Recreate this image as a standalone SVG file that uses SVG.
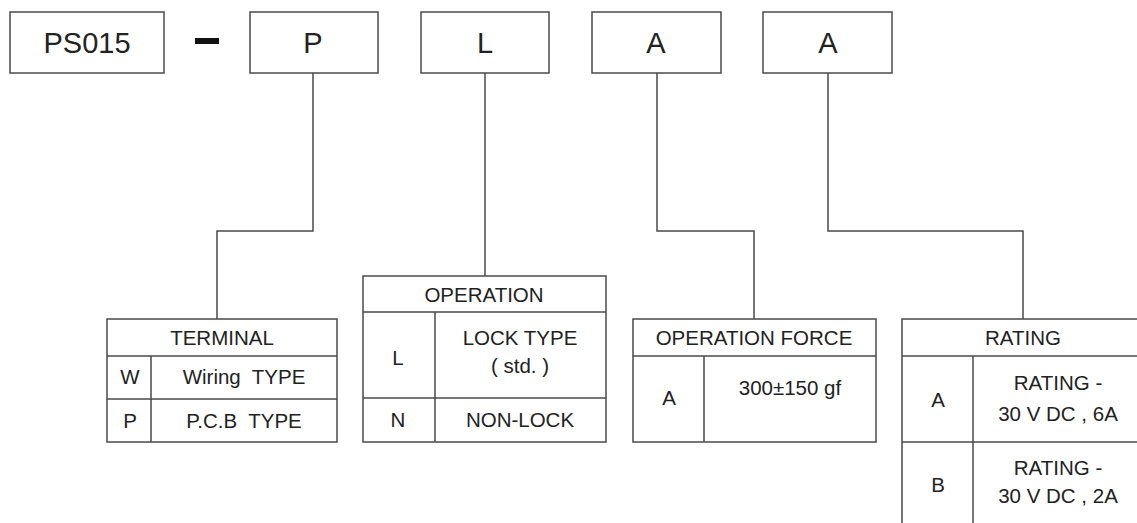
<svg xmlns="http://www.w3.org/2000/svg" width="1137" height="523" viewBox="0 0 1137 523">
<style>
.b{fill:none;stroke:#4a4a4a;stroke-width:1.5}
.c{fill:none;stroke:#4a4a4a;stroke-width:1.5}
text{font-family:"Liberation Sans",Arial,sans-serif;fill:#222;text-anchor:middle}
.t{font-size:29px}
.s{font-size:20.5px}
</style>
<rect width="1137" height="523" fill="#fff"/>
<g id="code-ps015"><rect class="b" x="10" y="12" width="154" height="61"/><text class="t" x="87" y="53">PS015</text></g>
<g id="dash"><rect x="195" y="38" width="24" height="6" fill="#111"/></g>
<g id="code-p"><rect class="b" x="250" y="12" width="128" height="61"/><text class="t" x="313" y="53">P</text></g>
<g id="code-l"><rect class="b" x="421" y="12" width="128" height="61"/><text class="t" x="485" y="53">L</text></g>
<g id="code-a1"><rect class="b" x="592" y="12" width="129" height="61"/><text class="t" x="656" y="53">A</text></g>
<g id="code-a2"><rect class="b" x="763" y="12" width="129" height="61"/><text class="t" x="828" y="53">A</text></g>
<g id="connectors">
<polyline class="c" points="313,73 313,231 217,231 217,319"/>
<polyline class="c" points="485,73 485,276"/>
<polyline class="c" points="657,73 657,231 754,231 754,319"/>
<polyline class="c" points="828,73 828,231 1023,231 1023,319"/>
</g>
<g id="terminal">
<rect class="b" x="107" y="319" width="230" height="123"/>
<path class="b" d="M107,356H337M107,399H337M151,356V442"/>
<text class="s" x="222" y="345">TERMINAL</text>
<text class="s" x="130" y="384">W</text>
<text class="s" x="244" y="384" xml:space="preserve">Wiring  TYPE</text>
<text class="s" x="130" y="428">P</text>
<text class="s" x="244" y="428" xml:space="preserve">P.C.B  TYPE</text>
</g>
<g id="operation">
<rect class="b" x="363" y="276" width="243" height="166"/>
<path class="b" d="M363,312H606M363,398H606M435,312V442"/>
<text class="s" x="484" y="302">OPERATION</text>
<text class="s" x="398" y="365">L</text>
<text class="s" x="520" y="345">LOCK TYPE</text>
<text class="s" x="520" y="373">( std. )</text>
<text class="s" x="398" y="427">N</text>
<text class="s" x="520" y="427">NON-LOCK</text>
</g>
<g id="operation-force">
<rect class="b" x="633" y="319" width="243" height="123"/>
<path class="b" d="M633,356H876M704,356V442"/>
<text class="s" x="754" y="345">OPERATION FORCE</text>
<text class="s" x="669" y="405">A</text>
<text class="s" x="790" y="395">300±150 gf</text>
</g>
<g id="rating">
<path class="b" d="M902,523V319H1144M902,356H1144M902,442H1144M973,356V523"/>
<text class="s" x="1023" y="345">RATING</text>
<text class="s" x="938" y="407">A</text>
<text class="s" x="1058" y="390">RATING -</text>
<text class="s" x="1058" y="421">30 V DC , 6A</text>
<text class="s" x="938" y="492">B</text>
<text class="s" x="1058" y="475">RATING -</text>
<text class="s" x="1058" y="503">30 V DC , 2A</text>
</g>
</svg>
